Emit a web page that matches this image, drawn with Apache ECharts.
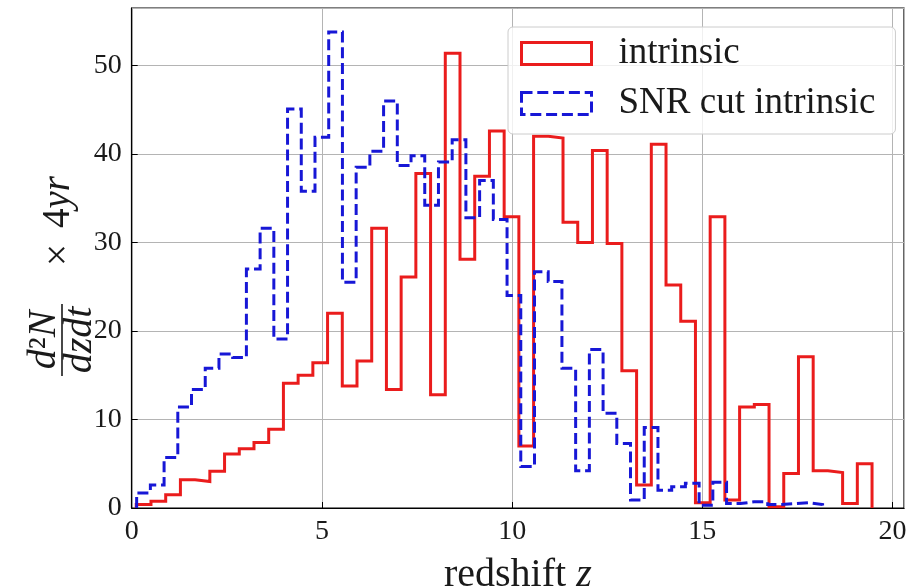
<!DOCTYPE html>
<html>
<head>
<meta charset="utf-8">
<script src="https://cdn.jsdelivr.net/npm/echarts@6/dist/echarts.min.js"></script>
<style>
  html, body { margin: 0; padding: 0; background: #fff; }
  #chart { width: 912px; height: 587px; }
</style>
</head>
<body>
<div id="chart"></div>
<script>
// ---- data ----
const seriesNames = ['intrinsic', 'SNR cut intrinsic'];

// histogram ranges (50 equal bins each)
const redRange = [0.12, 19.46];
const blueRange = [0.13, 18.16];

const redCounts = [
  0.4, 0.75, 1.5, 3.2, 3.0, 4.15, 6.1, 6.7, 7.4, 8.9,
  14.1, 15.0, 16.4, 22.0, 13.8, 16.6, 31.6, 13.4, 26.1, 37.8,
  12.8, 51.4, 28.1, 37.5, 42.6, 32.9, 7.0, 42.0, 41.8, 32.3,
  30.0, 40.4, 29.9, 15.5, 2.6, 41.1, 25.2, 21.1, 0.6, 32.9,
  0.9, 11.4, 11.7, 0.15, 3.9, 17.1, 4.2, 4.0, 0.5, 5.0
];

const blueCounts = [
  1.7, 2.6, 5.7, 11.4, 13.4, 15.8, 17.4, 17.0, 27.0, 31.6,
  19.1, 45.1, 35.8, 41.9, 53.8, 25.5, 38.5, 40.3, 46.0, 38.7,
  39.8, 34.2, 39.1, 41.6, 32.8, 37.0, 32.6, 24.0, 4.7, 26.7,
  25.6, 15.8, 4.2, 17.9, 10.7, 7.3, 0.9, 9.1, 2.0, 2.4,
  2.8, 0.3, 2.9, 0.5, 0.7, 0.7, 0.4, 0.5, 0.6, 0.4
];

const xTicks = [0, 5, 10, 15, 20];
const yTicks = [0, 10, 20, 30, 40, 50];
const xMax = 20.3;
const yMax = 56.5;

// ---- build step outlines (like matplotlib histtype='step') ----
function stepOutline(range, counts) {
  const lo = range[0], hi = range[1], n = counts.length;
  const w = (hi - lo) / n;
  const pts = [[lo, 0]];
  for (let k = 0; k < n; k++) {
    pts.push([lo + k * w, counts[k]]);
    pts.push([lo + (k + 1) * w, counts[k]]);
  }
  pts.push([hi, 0]);
  return pts;
}

const RED = '#ea1c1c';
const BLUE = '#1717d6';
const INK = '#1a1a1a';
const FONT = '"Liberation Serif", "DejaVu Serif", serif';

const chart = echarts.init(document.getElementById('chart'), null, { renderer: 'canvas' });

const option = {
  animation: false,
  backgroundColor: '#ffffff',
  grid: {
    left: 131.7, right: 8, top: 8, bottom: 79,
    outerBoundsMode: 'none', containLabel: false,
    show: true, borderColor: '#000', borderWidth: 1.2,
    backgroundColor: 'transparent'
  },
  xAxis: {
    type: 'value', min: 0, max: xMax, interval: 5,
    axisLine: { show: true, lineStyle: { color: '#000', width: 1.2 } },
    axisTick: { show: true, inside: true, length: 6, lineStyle: { color: '#000', width: 1 } },
    splitLine: { show: true, lineStyle: { color: '#b4b4b4', width: 1 } },
    axisLabel: {
      margin: 10, fontSize: 28, fontFamily: FONT, color: INK,
      showMaxLabel: false,
      formatter: v => (xTicks.indexOf(v) >= 0 ? String(v) : '')
    },
    name: '{r|redshift }{i|z}',
    nameLocation: 'middle', nameGap: 47,
    nameTextStyle: {
      rich: {
        r: { fontSize: 40, fontFamily: FONT, color: INK },
        i: { fontSize: 40, fontFamily: FONT, fontStyle: 'italic', color: INK }
      }
    }
  },
  yAxis: {
    type: 'value', min: 0, max: yMax, interval: 10,
    axisLine: { show: true, lineStyle: { color: '#000', width: 1.2 } },
    axisTick: { show: true, inside: true, length: 6, lineStyle: { color: '#000', width: 1 } },
    splitLine: { show: true, lineStyle: { color: '#b4b4b4', width: 1 } },
    axisLabel: {
      margin: 10, fontSize: 28, fontFamily: FONT, color: INK,
      showMaxLabel: false,
      formatter: v => (yTicks.indexOf(v) >= 0 ? String(v) : '')
    }
  },
  legend: {
    orient: 'vertical', left: 508, top: 27,
    padding: [8, 20, 12, 12],
    itemWidth: 70, itemHeight: 22, itemGap: 13,
    backgroundColor: 'rgba(255,255,255,0.8)',
    borderColor: '#cccccc', borderWidth: 1, borderRadius: 5,
    textStyle: { fontSize: 37, fontFamily: FONT, color: INK, padding: [0, 0, 0, 22] },
    data: [
      { name: seriesNames[0], icon: 'rect',
        itemStyle: { color: 'transparent', borderColor: RED, borderWidth: 3 } },
      { name: seriesNames[1], icon: 'rect',
        itemStyle: { color: 'transparent', borderColor: BLUE, borderWidth: 3, borderType: [11, 4.8] } }
    ]
  },
  series: [
    {
      name: seriesNames[0], type: 'line', z: 2,
      data: stepOutline(redRange, redCounts),
      symbol: 'none', showSymbol: false, silent: true,
      lineStyle: { color: RED, width: 3, join: 'miter' },
      itemStyle: { color: RED }
    },
    {
      name: seriesNames[1], type: 'line', z: 3,
      data: stepOutline(blueRange, blueCounts),
      symbol: 'none', showSymbol: false, silent: true,
      lineStyle: { color: BLUE, width: 3, type: [11, 4.8], join: 'miter' },
      itemStyle: { color: BLUE }
    }
  ],
  graphic: [
    {
      type: 'group', x: 62, y: 340, rotation: Math.PI / 2,
      children: [
        { type: 'text', x: 0, y: -18,
          style: { text: '{i|d}{u|²}{i|N}', align: 'center', verticalAlign: 'middle',
            rich: {
              i: { fontSize: 40, fontFamily: FONT, fontStyle: 'italic', fill: INK },
              u: { fontSize: 40, fontFamily: FONT, fill: INK }
            } } },
        { type: 'line', shape: { x1: -36, y1: 0, x2: 36, y2: 0 },
          style: { stroke: INK, lineWidth: 1.6 } },
        { type: 'text', x: 0, y: 18,
          style: { text: 'dzdt', fontSize: 40, fontFamily: FONT, fontStyle: 'italic',
            fill: INK, align: 'center', verticalAlign: 'middle' } },
        { type: 'text', x: 85, y: -2,
          style: { text: '×', fontSize: 39, fontFamily: FONT, fill: INK,
            align: 'center', verticalAlign: 'middle' } },
        { type: 'text', x: 112, y: -3,
          style: { text: '{u|4}{i|yr}', align: 'left', verticalAlign: 'middle',
            rich: {
              i: { fontSize: 39, fontFamily: FONT, fontStyle: 'italic', fill: INK },
              u: { fontSize: 39, fontFamily: FONT, fill: INK }
            } } }
      ]
    }
  ]
};

chart.setOption(option);
</script>
</body>
</html>
